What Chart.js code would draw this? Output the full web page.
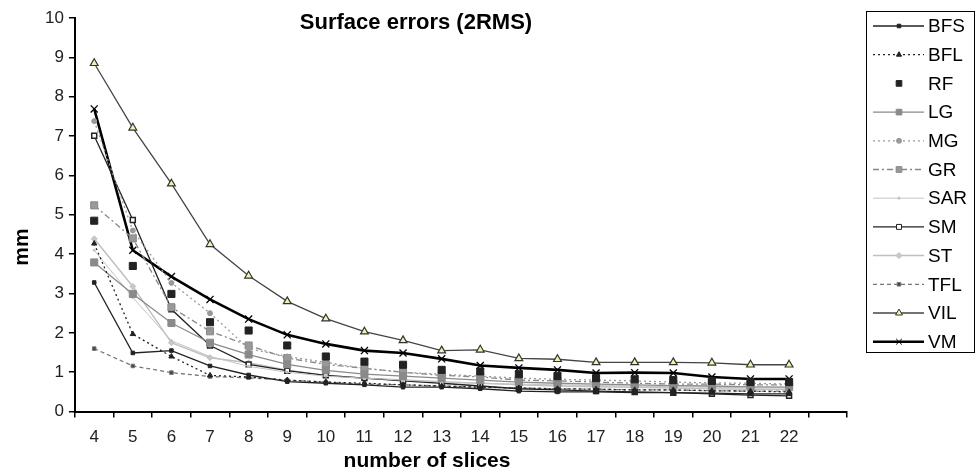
<!DOCTYPE html>
<html>
<head>
<meta charset="utf-8">
<script src="https://cdn.jsdelivr.net/npm/chart.js@4"></script>
<style>
  html, body { margin: 0; padding: 0; background: #fff; }
  #wrap { width: 977px; height: 471px; }
</style>
</head>
<body>
<div id="wrap"><canvas id="chart" width="977" height="471"></canvas></div>
<script>
// number of slices (last slot is an empty category, as in the original axis)
const slices = ['4', '5', '6', '7', '8', '9', '10', '11', '12', '13', '14', '15', '16', '17', '18', '19', '20', '21', '22', ''];

const BFS = [3.28, 1.49, 1.55, 1.16, 0.93, 0.76, 0.72, 0.68, 0.62, 0.62, 0.58, 0.52, 0.5, 0.5, 0.48, 0.48, 0.47, 0.45, 0.45];
const BFL = [4.27, 1.97, 1.4, 0.92, 0.88, 0.8, 0.75, 0.72, 0.68, 0.65, 0.62, 0.6, 0.58, 0.57, 0.55, 0.55, 0.53, 0.52, 0.5];
const RF = [4.85, 3.7, 2.99, 2.27, 2.06, 1.68, 1.4, 1.27, 1.19, 1.06, 1.02, 0.95, 0.9, 0.85, 0.82, 0.8, 0.78, 0.75, 0.75];
const LG = [3.79, 2.99, 2.25, 1.75, 1.45, 1.2, 1.05, 0.95, 0.9, 0.85, 0.8, 0.75, 0.72, 0.7, 0.68, 0.66, 0.65, 0.63, 0.62];
const MG = [7.38, 4.6, 3.27, 2.5, 1.6, 1.4, 1.25, 1.1, 1.0, 0.95, 0.9, 0.85, 0.82, 0.8, 0.78, 0.75, 0.73, 0.72, 0.7];
const GR = [5.24, 4.4, 2.65, 2.04, 1.68, 1.36, 1.2, 1.1, 1.0, 0.92, 0.88, 0.8, 0.78, 0.75, 0.72, 0.7, 0.7, 0.68, 0.68];
const SAR = [4.1, 2.9, 1.8, 1.4, 1.15, 1.0, 0.9, 0.85, 0.8, 0.75, 0.72, 0.7, 0.68, 0.66, 0.65, 0.63, 0.62, 0.6, 0.6];
const SM = [7.01, 4.87, 2.6, 1.68, 1.2, 1.04, 0.92, 0.85, 0.78, 0.72, 0.65, 0.58, 0.55, 0.52, 0.5, 0.48, 0.45, 0.42, 0.4];
const ST = [4.39, 3.18, 1.75, 1.37, 1.24, 1.05, 0.92, 0.85, 0.8, 0.76, 0.72, 0.68, 0.65, 0.63, 0.62, 0.6, 0.58, 0.57, 0.56];
const TFL = [1.6, 1.16, 0.99, 0.89, 0.86, 0.8, 0.75, 0.7, 0.68, 0.65, 0.62, 0.6, 0.58, 0.57, 0.55, 0.55, 0.53, 0.52, 0.52];
const VIL = [8.85, 7.21, 5.79, 4.25, 3.45, 2.8, 2.36, 2.03, 1.81, 1.55, 1.57, 1.35, 1.33, 1.25, 1.25, 1.25, 1.24, 1.19, 1.19];
const VM = [7.69, 4.1, 3.43, 2.85, 2.35, 1.95, 1.72, 1.55, 1.49, 1.34, 1.17, 1.11, 1.06, 0.98, 0.99, 0.98, 0.88, 0.83, 0.83];

const yTicks = [0, 1, 2, 3, 4, 5, 6, 7, 8, 9, 10];

const FONT = '"Liberation Sans", Arial, sans-serif';

function series(label, data, opts) {
  return Object.assign({
    label: label,
    data: data,
    borderColor: '#000',
    backgroundColor: '#000',
    borderWidth: 1.3,
    pointRadius: 3,
    pointBorderWidth: 1,
    tension: 0,
    fill: false
  }, opts);
}

const datasets = [
  series('BFS', BFS, { borderColor: '#222', backgroundColor: '#222', pointStyle: 'rect', pointRadius: 2.5 }),
  series('BFL', BFL, { borderColor: '#222', backgroundColor: '#222', borderDash: [2, 3], pointStyle: 'triangle', pointRadius: 3 }),
  series('RF', RF, { showLine: false, borderColor: '#222', backgroundColor: '#222', pointStyle: 'rect', pointRadius: 5 }),
  series('LG', LG, { borderColor: '#8a8a8a', backgroundColor: '#8a8a8a', pointStyle: 'rect', pointRadius: 5 }),
  series('MG', MG, { borderColor: '#999', backgroundColor: '#999', borderDash: [2, 3], pointStyle: 'circle', pointRadius: 2.5 }),
  series('GR', GR, { borderColor: '#888', backgroundColor: '#999', borderDash: [6, 3, 2, 3], pointStyle: 'rect', pointRadius: 5 }),
  series('SAR', SAR, { borderColor: '#c4c4c4', backgroundColor: '#aaa', borderWidth: 1, pointStyle: 'triangle', pointRadius: 1.5 }),
  series('SM', SM, { borderColor: '#222', backgroundColor: '#fff', pointBorderColor: '#222', pointStyle: 'rect', pointRadius: 3.5, pointBorderWidth: 1.5 }),
  series('ST', ST, { borderColor: '#c0c0c0', backgroundColor: '#c8c8c8', borderWidth: 1.5, pointStyle: 'rectRot', pointRadius: 3 }),
  series('TFL', TFL, { borderColor: '#777', backgroundColor: '#444', borderDash: [4, 3], pointStyle: 'rect', pointRadius: 2.5 }),
  series('VIL', VIL, { borderColor: '#444', backgroundColor: '#f2f2b0', pointBorderColor: '#333', pointStyle: 'triangle', pointRadius: 4.5, pointBorderWidth: 1.2 }),
  series('VM', VM, { borderColor: '#000', backgroundColor: '#000', borderWidth: 2.6, pointStyle: 'crossRot', pointRadius: 5, pointBorderWidth: 1.3 })
];

// titles and the boxed legend on the right are drawn by hand
const decorations = {
  id: 'decorations',
  afterDraw(chart) {
    const ctx = chart.ctx;
    ctx.save();
    ctx.fillStyle = '#000';
    ctx.textBaseline = 'middle';
    ctx.textAlign = 'center';
    ctx.font = 'bold 22px ' + FONT;
    ctx.fillText('Surface errors (2RMS)', 416, 23);
    ctx.font = 'bold 21px ' + FONT;
    ctx.fillText('number of slices', 427, 461);
    ctx.save();
    ctx.translate(22, 247);
    ctx.rotate(-Math.PI / 2);
    ctx.fillText('mm', 0, 0);
    ctx.restore();

    // legend box
    ctx.lineWidth = 1;
    ctx.strokeStyle = '#000';
    ctx.strokeRect(866.5, 11.5, 108, 341);
    ctx.textAlign = 'left';
    ctx.font = '19px ' + FONT;
    chart.data.datasets.forEach((ds, i) => {
      const y = 26 + i * 28.7;
      if (ds.showLine !== false) {
        ctx.save();
        ctx.strokeStyle = ds.borderColor;
        ctx.lineWidth = ds.borderWidth;
        ctx.setLineDash(ds.borderDash || []);
        ctx.beginPath();
        ctx.moveTo(873, y);
        ctx.lineTo(924, y);
        ctx.stroke();
        ctx.restore();
      }
      ctx.save();
      ctx.fillStyle = ds.backgroundColor;
      ctx.strokeStyle = ds.pointBorderColor || ds.borderColor;
      ctx.setLineDash([]);
      Chart.helpers.drawPoint(ctx, {
        pointStyle: ds.pointStyle,
        radius: Math.min(ds.pointRadius, 4),
        rotation: 0,
        borderWidth: ds.pointBorderWidth
      }, 899, y);
      ctx.restore();
      ctx.fillStyle = '#000';
      ctx.fillText(ds.label, 928, y + 1);
    });
    ctx.restore();
  }
};

const config = {
  type: 'line',
  data: {
    labels: slices,
    datasets: datasets
  },
  plugins: [decorations],
  options: {
    responsive: false,
    animation: false,
    layout: {
      padding: { top: 18, right: 130, left: 40, bottom: 13 }
    },
    scales: {
      x: {
        offset: true,
        grid: {
          offset: true,
          drawOnChartArea: false,
          tickLength: 6,
          color: '#000',
          lineWidth: 1.5
        },
        border: { color: '#000', width: 2 },
        ticks: {
          color: '#222',
          font: { family: FONT, size: 17 },
          maxRotation: 0,
          autoSkip: false,
          padding: 10
        }
      },
      y: {
        min: 0,
        max: 10,
        afterBuildTicks(axis) {
          axis.ticks = yTicks.map(v => ({ value: v }));
        },
        grid: {
          drawOnChartArea: false,
          tickLength: 6,
          color: '#000',
          lineWidth: 1.5
        },
        border: { color: '#000', width: 2 },
        ticks: {
          color: '#222',
          font: { family: FONT, size: 17 },
          padding: 5
        }
      }
    },
    plugins: {
      legend: { display: false },
      tooltip: { enabled: false },
      title: { display: false }
    }
  }
};

const myChart = new Chart(document.getElementById('chart'), config);
</script>
</body>
</html>
